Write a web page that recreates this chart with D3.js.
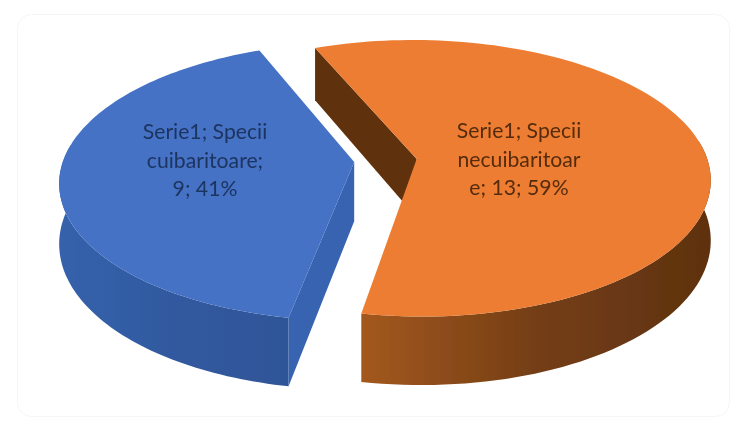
<!DOCTYPE html>
<html><head><meta charset="utf-8">
<script src="https://cdn.jsdelivr.net/npm/d3@7/dist/d3.min.js"></script>
<style>html,body{margin:0;padding:0;background:#fff}svg{display:block}</style>
</head><body><svg id="c" width="747" height="431"></svg>
<script>
const categories = ["Specii necuibaritoare", "Specii cuibaritoare"];
const values = [13, 9];
const labelLines = [["Serie1; Specii", "necuibaritoar", "e; 13; 59%"], ["Serie1; Specii", "cuibaritoare;", "9; 41%"]];
const topColors = ["#ED7D31", "#4472C4"];
const cutColors = ["#5f3310", "#3763b0"];
const wallStops = [["#a3581f", "#743e15", "#5e3210"], ["#3462ab", "#32599f", "#2f5597"]];
const textColors = ["#562c0c", "#1d3461"];
const labelPos = [[519, 130], [205, 131]];

const svg = d3.select("#c");
const defs = svg.append("defs");
const f = defs.append("filter").attr("id", "soft").attr("x", "-5%").attr("y", "-5%").attr("width", "110%").attr("height", "110%");
f.append("feGaussianBlur").attr("stdDeviation", 0.7);

// frame
svg.append("rect").attr("x", 17.5).attr("y", 14.5).attr("width", 712).attr("height", 402).attr("rx", 14)
  .attr("fill", "#fff").attr("stroke", "#f6f6f6").attr("stroke-width", 1);

const startAngle = -22.4 * Math.PI / 180;
const pie = d3.pie().value(d => d).sort(null).startAngle(startAngle).endAngle(startAngle + 2 * Math.PI);
const arcs = pie(values);

// perspective projection of the tilted disc
const cx = 385.5, cy = 160.5, rx = 291, ry = 136, persp = 0.14, depth = 59, explode = 0.108;
function project(u, v, z) {
  const s = 1 / (1 + persp * v);
  return [cx + rx * u * s, cy - ry * v * s + z * depth * s];
}
const line = d3.line();

const g = svg.append("g").attr("filter", "url(#soft)");

arcs.forEach((a, i) => {
  const mid = (a.startAngle + a.endAngle) / 2;
  const ou = explode * Math.sin(mid), ov = explode * Math.cos(mid);
  const angles = d3.range(0, 121).map(k => d3.interpolateNumber(a.startAngle, a.endAngle)(k / 120));
  const rim = z => angles.map(t => project(ou + Math.sin(t), ov + Math.cos(t), z));
  const apex = z => project(ou, ov, z);
  const gid = "wall" + i;
  const lg = defs.append("linearGradient").attr("id", gid);
  wallStops[i].forEach((c, k) => lg.append("stop").attr("offset", k / 2).attr("stop-color", c));
  const top = rim(0), bot = rim(1);
  const slice = g.append("g").attr("class", "slice").datum(categories[i]);
  const near = angles.map((t, k) => [t, k]).filter(([t]) => Math.cos(t) < 0.15).map(([, k]) => k);
  const wt = near.map(k => top[k]), wb = near.map(k => bot[k]);
  const wall = wt.concat(wb.reverse());
  slice.append("path").attr("d", line(wall) + "Z").attr("fill", `url(#${gid})`);
  // the leading cut face of each slice is the one turned towards the viewer
  slice.append("path").attr("d", line([apex(0), top[0], bot[0], apex(1)]) + "Z").attr("fill", cutColors[i]);
  slice.append("path").attr("d", line([apex(0), ...top]) + "Z").attr("fill", topColors[i]);
});

const t = svg.append("g").attr("filter", "url(#soft)");
labelLines.forEach((lines, i) => lines.forEach((s, k) => {
  t.append("text").attr("x", labelPos[i][0]).attr("y", labelPos[i][1] + k * 28.7)
    .attr("text-anchor", "middle").attr("dominant-baseline", "central")
    .attr("font-family", "Lato, 'Open Sans', sans-serif").attr("font-size", 21.2)
    .attr("fill", textColors[i]).text(s);
}));
</script></body></html>
